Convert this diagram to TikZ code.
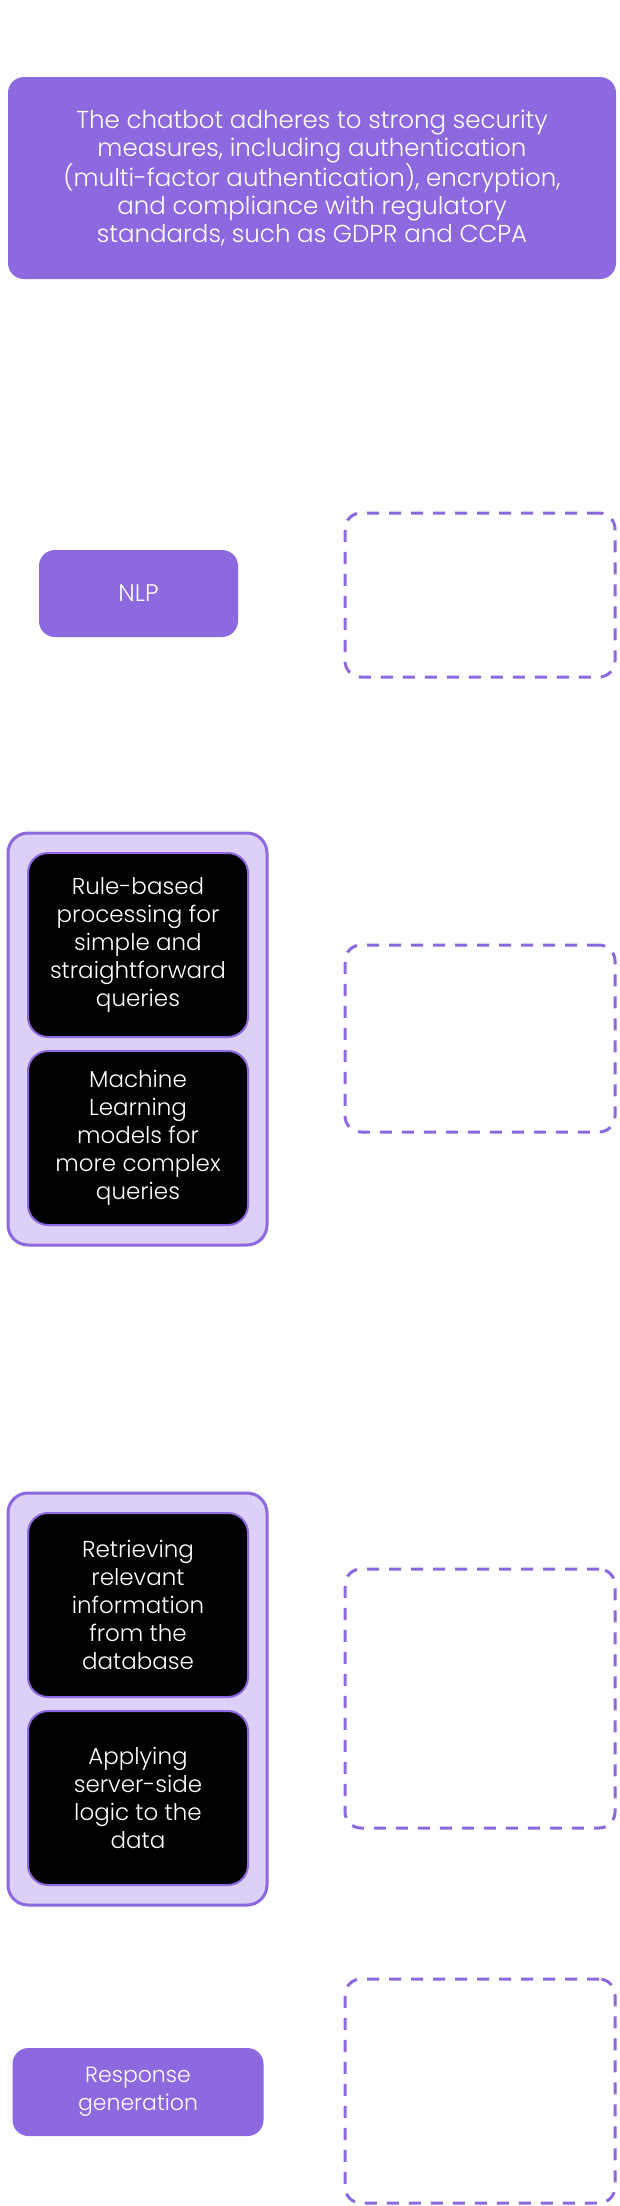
\documentclass[tikz,border=0pt]{standalone}
\usepackage{fontspec}
\setmainfont{Poppins Light}
\definecolor{pmain}{RGB}{140,105,222}
\definecolor{plight}{RGB}{221,208,246}
\begin{document}
\begin{tikzpicture}[x=1pt,y=-1pt,
  base/.style={inner sep=0pt, align=center, text=white, font=\fontsize{23}{28}\selectfont},
  solidbox/.style={base, fill=pmain, rounded corners=16pt},
  groupbox/.style={fill=plight, draw=pmain, line width=3pt, rounded corners=20pt, inner sep=0pt},
  darkbox/.style={base, fill=black, draw=pmain, line width=2pt, rounded corners=20pt},
  dashbox/.style={draw=pmain, line width=3pt, dash pattern=on 12pt off 10pt, rounded corners=16pt, inner sep=0pt}]
\path[use as bounding box, fill=white] (0,0) rectangle (619,2206);

\node[solidbox, minimum width=608pt, minimum height=202pt, font=\fontsize{24.5}{28}\selectfont] (top) at (312,178)
  {The chatbot adheres to strong security\\measures, including authentication\\(multi-factor authentication), encryption,\\and compliance with regulatory\\standards, such as GDPR and CCPA};

\node[solidbox, minimum width=199pt, minimum height=87pt, font=\fontsize{24}{28}\selectfont] (nlp) at (138.5,593.5) {NLP};
\node[dashbox, minimum width=270pt, minimum height=164pt] (d1) at (480,595) {};

\node[groupbox, minimum width=259pt, minimum height=412pt] (g1) at (137.5,1039) {};
\node[darkbox, minimum width=220pt, minimum height=184pt] (r1) at (138,945)
  {Rule-based\\processing for\\simple and\\straightforward\\queries};
\node[darkbox, minimum width=220pt, minimum height=174pt] (r2) at (138,1138)
  {Machine\\Learning\\models for\\more complex\\queries};
\node[dashbox, minimum width=270pt, minimum height=187pt] (d2) at (480,1038.5) {};

\node[groupbox, minimum width=259pt, minimum height=412pt] (g2) at (137.5,1699) {};
\node[darkbox, minimum width=220pt, minimum height=184pt] (a1) at (138,1605)
  {Retrieving\\relevant\\information\\from the\\database};
\node[darkbox, minimum width=220pt, minimum height=174pt] (a2) at (138,1798)
  {Applying\\server-side\\logic to the\\data};
\node[dashbox, minimum width=270pt, minimum height=259pt] (d3) at (480,1698.5) {};

\node[solidbox, minimum width=251pt, minimum height=88pt, font=\fontsize{22}{28}\selectfont] (resp) at (138,2092)
  {Response\\generation};
\node[dashbox, minimum width=270pt, minimum height=224pt] (d4) at (480,2091) {};
\end{tikzpicture}
\end{document}
